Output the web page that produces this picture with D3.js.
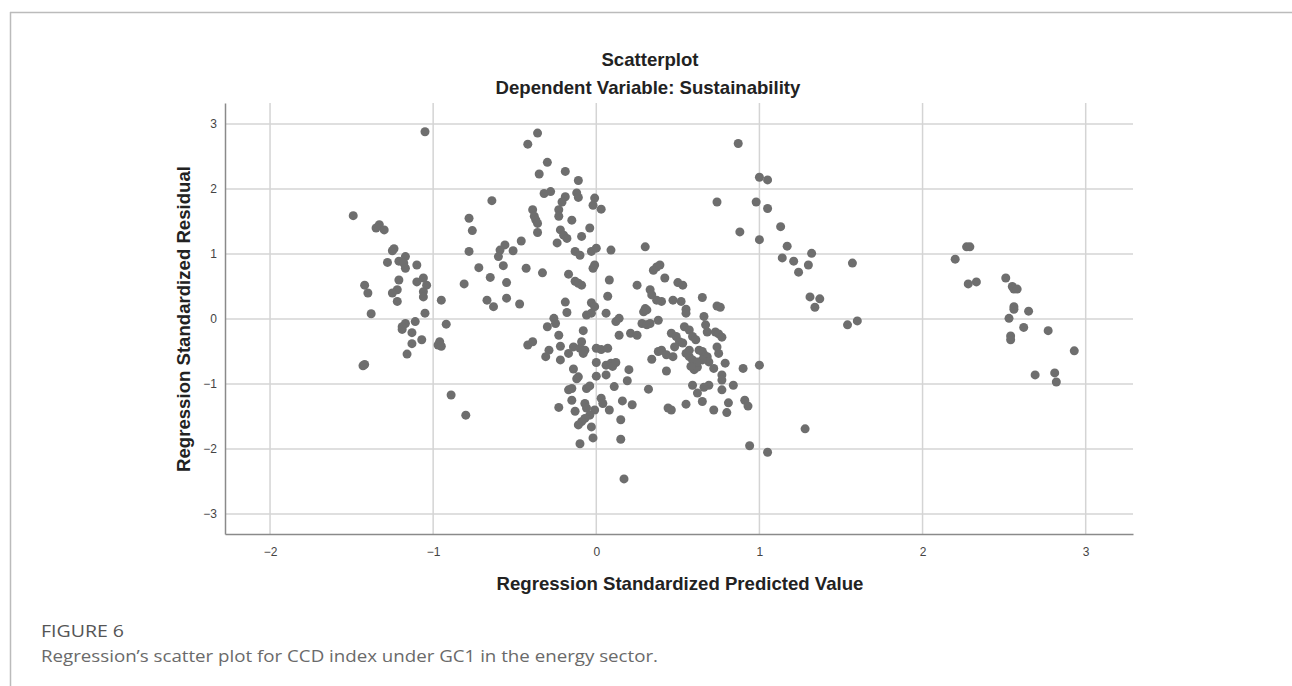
<!DOCTYPE html>
<html>
<head>
<meta charset="utf-8">
<script src="https://cdn.jsdelivr.net/npm/d3@7"></script>
<style>
  html, body { margin: 0; padding: 0; background: #fff; }
  svg { display: block; }
  .caption-head { font-family: "Open Sans", sans-serif; font-size: 17px; fill: #555; }
  .caption-text { font-family: "Open Sans", sans-serif; font-size: 16px; fill: #6a6a6a; }
</style>
</head>
<body>
<svg id="chart" width="1292" height="686"></svg>
<script>
// tick labels
var xTicks = [-2, -1, 0, 1, 2, 3];
var yTicks = [-3, -2, -1, 0, 1, 2, 3];

// points: [predicted, residual]
var leftCluster = [
  [-1.49, 1.59], [-1.33, 1.45], [-1.35, 1.40], [-1.30, 1.37], [-1.25, 1.05], [-1.24, 1.08],
  [-1.28, 0.87], [-1.21, 0.89], [-1.17, 0.96], [-1.18, 0.86], [-1.17, 0.78], [-1.10, 0.83],
  [-1.21, 0.60], [-1.06, 0.63], [-1.10, 0.57], [-1.04, 0.52], [-1.06, 0.42], [-1.06, 0.34],
  [-1.42, 0.52], [-1.40, 0.40], [-1.22, 0.45], [-1.25, 0.40], [-1.22, 0.27], [-0.95, 0.29],
  [-1.38, 0.08], [-1.05, 0.09], [-1.11, -0.04], [-1.17, -0.07], [-1.19, -0.12], [-1.19, -0.16],
  [-1.13, -0.21], [-0.92, -0.08], [-1.07, -0.32], [-1.13, -0.38], [-0.96, -0.35], [-0.97, -0.40],
  [-0.95, -0.42], [-1.16, -0.54], [-1.43, -0.72], [-1.42, -0.70], [-0.89, -1.17], [-0.80, -1.48],
  [-1.05, 2.88]
];

var midLeftCluster = [
  [-0.64, 1.82], [-0.78, 1.55], [-0.76, 1.36], [-0.78, 1.04], [-0.46, 1.20], [-0.56, 1.14],
  [-0.59, 1.06], [-0.51, 1.05], [-0.60, 0.96], [-0.57, 0.82], [-0.72, 0.79], [-0.65, 0.64],
  [-0.55, 0.56], [-0.81, 0.54], [-0.67, 0.29], [-0.63, 0.19], [-0.55, 0.32], [-0.47, 0.23],
  [-0.33, 0.71]
];

var upperCenter = [
  [-0.36, 2.86], [-0.42, 2.69], [-0.30, 2.41], [-0.35, 2.23], [-0.19, 2.27], [-0.11, 2.13],
  [-0.32, 1.93], [-0.28, 1.96], [-0.19, 1.88], [-0.21, 1.80], [-0.12, 1.94], [-0.11, 1.87],
  [-0.01, 1.86], [-0.02, 1.75], [0.03, 1.69], [-0.39, 1.68], [-0.38, 1.58], [-0.37, 1.52],
  [-0.36, 1.47], [-0.23, 1.68], [-0.23, 1.58], [-0.15, 1.52], [-0.36, 1.33], [-0.04, 1.40],
  [-0.22, 1.37], [-0.20, 1.29], [-0.18, 1.24], [-0.24, 1.17], [-0.09, 1.27], [-0.13, 1.04],
  [-0.10, 0.98], [-0.03, 1.04], [0.00, 1.09], [0.09, 1.06], [0.30, 1.11], [-0.43, 0.78],
  [-0.01, 0.83], [-0.02, 0.78], [-0.17, 0.69], [-0.13, 0.58], [-0.11, 0.55], [-0.09, 0.52],
  [0.08, 0.60], [0.07, 0.35], [-0.19, 0.26], [-0.03, 0.25], [-0.01, 0.19], [0.35, 0.75],
  [0.37, 0.80], [0.39, 0.83], [0.42, 0.63], [0.25, 0.52], [0.33, 0.45], [0.34, 0.37],
  [0.37, 0.29], [0.40, 0.27], [0.50, 0.56], [0.53, 0.52], [0.47, 0.29], [0.52, 0.27],
  [0.65, 0.33], [0.55, 0.15], [0.30, 0.16]
];

var lowerCenter = [
  [-0.18, 0.10], [-0.06, 0.06], [-0.03, 0.09], [0.06, 0.09], [0.12, -0.04], [0.14, 0.01],
  [-0.30, -0.12], [-0.26, 0.01], [-0.25, -0.07], [-0.23, -0.25], [-0.08, -0.18], [-0.42, -0.40],
  [-0.39, -0.35], [-0.29, -0.48], [-0.31, -0.58], [-0.22, -0.42], [-0.22, -0.63], [-0.17, -0.53],
  [-0.14, -0.43], [-0.09, -0.35], [-0.10, -0.45], [-0.07, -0.48], [-0.08, -0.53], [0.00, -0.45],
  [0.03, -0.47], [0.07, -0.45], [0.00, -0.67], [0.06, -0.71], [0.09, -0.68], [0.12, -0.67],
  [0.10, -0.73], [0.14, -0.25], [0.21, -0.22], [0.25, -0.25], [-0.14, -0.77], [-0.11, -0.89],
  [-0.12, -0.92], [0.00, -0.88], [0.06, -0.86], [-0.06, -1.07], [-0.04, -1.03], [-0.17, -1.09],
  [-0.15, -1.07], [0.11, -1.04], [0.20, -0.78], [0.19, -0.95], [-0.15, -1.25], [-0.23, -1.36],
  [-0.13, -1.42], [-0.07, -1.30], [-0.06, -1.37], [-0.01, -1.40], [-0.04, -1.48], [-0.07, -1.53],
  [-0.09, -1.58], [-0.11, -1.63], [-0.03, -1.66], [-0.02, -1.83], [-0.10, -1.92], [0.03, -1.22],
  [0.04, -1.30], [0.08, -1.40], [0.16, -1.26], [0.15, -1.55], [0.15, -1.85], [0.22, -1.32],
  [0.17, -2.46]
];

var rightOfCenter = [
  [0.32, -1.08], [0.43, -0.80], [0.34, -0.62], [0.38, -0.50], [0.40, -0.48], [0.43, -0.55],
  [0.47, -0.58], [0.29, 0.11], [0.31, 0.14], [0.28, -0.07], [0.31, -0.09], [0.33, -0.07],
  [0.38, -0.02], [0.44, -1.37], [0.46, -1.40], [0.55, -1.31], [0.59, -1.02], [0.62, -1.14],
  [0.65, -1.27], [0.55, 0.09], [0.54, -0.12], [0.57, -0.17], [0.59, -0.27], [0.61, -0.32],
  [0.46, -0.22], [0.49, -0.27], [0.51, -0.35], [0.53, -0.37], [0.60, -0.78], [0.62, -0.74],
  [0.72, -0.76], [0.79, -0.68], [0.77, -0.86], [0.77, -0.94], [0.77, -1.09], [0.69, -1.02],
  [0.66, -1.05], [0.84, -1.02], [0.72, -1.40], [0.81, -1.29], [0.80, -1.44], [0.91, -1.25],
  [0.93, -1.34], [1.28, -1.69], [0.94, -1.95], [1.05, -2.05], [0.90, -0.76], [1.00, -0.71],
  [0.74, 0.20], [0.76, 0.18], [0.66, 0.04], [0.67, -0.09], [0.68, -0.20], [0.73, -0.20],
  [0.75, -0.23], [0.77, -0.28], [0.65, -0.50], [0.66, -0.55], [0.68, -0.58], [0.69, -0.66],
  [0.65, -0.63], [0.74, -0.43], [0.75, -0.53], [0.55, -0.53], [0.57, -0.58], [0.59, -0.63],
  [0.62, -0.66], [0.57, -0.48], [0.58, -0.73], [0.63, -0.48], [0.48, -0.43]
];

var upperRight = [
  [0.87, 2.70], [1.00, 2.18], [1.05, 2.14], [0.74, 1.80], [0.98, 1.80], [1.05, 1.70],
  [0.88, 1.34], [1.00, 1.22], [1.13, 1.42], [1.17, 1.12], [1.14, 0.94], [1.21, 0.89],
  [1.32, 1.01], [1.30, 0.83], [1.24, 0.72], [1.57, 0.86], [1.31, 0.34], [1.37, 0.31],
  [1.34, 0.18], [1.54, -0.09], [1.60, -0.03]
];

var farRight = [
  [2.20, 0.92], [2.27, 1.11], [2.29, 1.11], [2.28, 0.54], [2.33, 0.57], [2.51, 0.63],
  [2.55, 0.50], [2.56, 0.46], [2.58, 0.46], [2.56, 0.19], [2.56, 0.15], [2.65, 0.12],
  [2.53, 0.01], [2.62, -0.13], [2.77, -0.18], [2.54, -0.26], [2.54, -0.32], [2.93, -0.49],
  [2.69, -0.86], [2.81, -0.83], [2.82, -0.97]
];

var points = [].concat(leftCluster, midLeftCluster, upperCenter, lowerCenter,
                       rightOfCenter, upperRight, farRight);

var svg = d3.select("#chart");

// frame of the figure box
svg.append("line")
    .attr("x1", 10).attr("y1", 12.5).attr("x2", 1292).attr("y2", 12.5)
    .attr("stroke", "#bbb").attr("stroke-width", 1.5);
svg.append("line")
    .attr("x1", 10.5).attr("y1", 12).attr("x2", 10.5).attr("y2", 686)
    .attr("stroke", "#bbb").attr("stroke-width", 1.5);

var x = d3.scaleLinear()
    .domain([-2.276, 3.29])
    .range([225, 1133]);

var y = d3.scaleLinear()
    .domain([-3.308, 3.323])
    .range([534, 103]);

// grid
svg.append("g")
    .selectAll("line")
    .data(xTicks)
    .enter().append("line")
      .attr("x1", function(d) { return x(d); })
      .attr("x2", function(d) { return x(d); })
      .attr("y1", y.range()[1])
      .attr("y2", y.range()[0])
      .attr("stroke", "#d4d4d4")
      .attr("stroke-width", 1.5);

svg.append("g")
    .selectAll("line")
    .data(yTicks)
    .enter().append("line")
      .attr("x1", x.range()[0])
      .attr("x2", x.range()[1])
      .attr("y1", function(d) { return y(d); })
      .attr("y2", function(d) { return y(d); })
      .attr("stroke", "#d4d4d4")
      .attr("stroke-width", 1.5);

// axes
var xAxis = svg.append("g")
    .attr("transform", "translate(0," + y.range()[0] + ")")
    .call(d3.axisBottom(x).tickValues(xTicks).tickSize(0).tickPadding(13).tickFormat(d3.format("d")));

var yAxis = svg.append("g")
    .attr("transform", "translate(" + x.range()[0] + ",0)")
    .call(d3.axisLeft(y).tickValues(yTicks).tickSize(0).tickPadding(8).tickFormat(d3.format("d")));

[xAxis, yAxis].forEach(function(g) {
  g.select(".domain").attr("stroke", "#8a8a8a").attr("stroke-width", 1.5);
  g.selectAll("text")
      .attr("font-family", "Liberation Sans, Arial, sans-serif")
      .attr("font-size", 12)
      .attr("fill", "#444");
});

// points
svg.append("g")
    .selectAll("circle")
    .data(points)
    .enter().append("circle")
      .attr("cx", function(d) { return x(d[0]); })
      .attr("cy", function(d) { return y(d[1]); })
      .attr("r", 4.5)
      .attr("fill", "#6e6e6e");

// titles
var boldFont = "Liberation Sans, Arial, sans-serif";

svg.append("text")
    .attr("x", 650).attr("y", 66)
    .attr("text-anchor", "middle")
    .attr("font-family", boldFont)
    .attr("font-size", 18.6).attr("font-weight", "bold").attr("fill", "#222")
    .text("Scatterplot");

svg.append("text")
    .attr("x", 648).attr("y", 94)
    .attr("text-anchor", "middle")
    .attr("font-family", boldFont)
    .attr("font-size", 18.6).attr("font-weight", "bold").attr("fill", "#222")
    .text("Dependent Variable: Sustainability");

svg.append("text")
    .attr("x", 680).attr("y", 590)
    .attr("text-anchor", "middle")
    .attr("font-family", boldFont)
    .attr("font-size", 18.6).attr("font-weight", "bold").attr("fill", "#222")
    .text("Regression Standardized Predicted Value");

svg.append("text")
    .attr("transform", "translate(190,319) rotate(-90)")
    .attr("text-anchor", "middle")
    .attr("font-family", boldFont)
    .attr("font-size", 18.6).attr("font-weight", "bold").attr("fill", "#222")
    .text("Regression Standardized Residual");

// caption
svg.append("text")
    .attr("class", "caption-head")
    .attr("x", 41).attr("y", 637)
    .attr("textLength", 83).attr("lengthAdjust", "spacingAndGlyphs")
    .text("FIGURE 6");

svg.append("text")
    .attr("class", "caption-text")
    .attr("x", 41).attr("y", 662)
    .attr("textLength", 617).attr("lengthAdjust", "spacingAndGlyphs")
    .text("Regression\u2019s scatter plot for CCD index under GC1 in the energy sector.");
</script>
</body>
</html>
